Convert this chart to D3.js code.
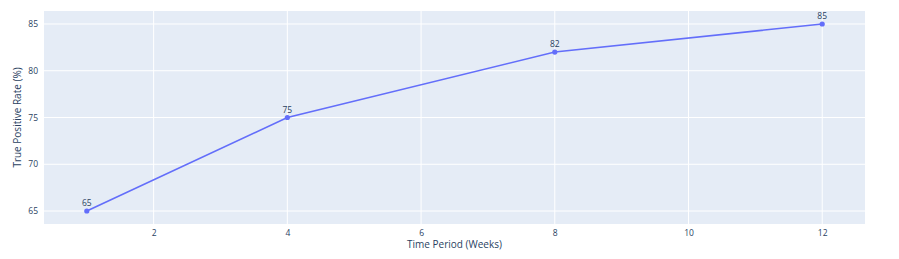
<!DOCTYPE html>
<html>
<head>
<meta charset="utf-8">
<script src="https://cdn.jsdelivr.net/npm/d3@7"></script>
<style>
  body { margin: 0; background: #fff; }
  svg { font-family: "Open Sans", "DejaVu Sans", sans-serif; }
</style>
</head>
<body>
<div id="container"></div>
<script>
/* DATA */
const weeks = [1, 4, 8, 12];
const tpr = [65, 75, 82, 85];
const xTicks = [2, 4, 6, 8, 10, 12];
const yTicks = [65, 70, 75, 80, 85];

const width = 899, height = 259,
      margin = { top: 11, right: 34, bottom: 35, left: 44 };
const w = width - margin.left - margin.right,
      h = height - margin.top - margin.bottom;

const svg = d3.select("#container").append("svg")
  .attr("width", width)
  .attr("height", height);

const g = svg.append("g")
  .attr("transform", `translate(${margin.left},${margin.top})`);

// scales - plotly-ish autorange padding
const x = d3.scaleLinear().domain([0.36, 12.64]).range([0, w]);
const y = d3.scaleLinear().domain([63.61, 86.39]).range([h, 0]);

// plot background
g.append("rect")
  .attr("width", w)
  .attr("height", h)
  .attr("fill", "#e5ecf6");

// gridlines
g.selectAll(".xgrid").data(xTicks).join("line")
  .attr("x1", d => x(d)).attr("x2", d => x(d))
  .attr("y1", 0).attr("y2", h)
  .attr("stroke", "#fff").attr("stroke-width", 1);

g.selectAll(".ygrid").data(yTicks).join("line")
  .attr("y1", d => y(d)).attr("y2", d => y(d))
  .attr("x1", 0).attr("x2", w)
  .attr("stroke", "#fff").attr("stroke-width", 1);

// axes (no domain lines, no tick marks)
const xAxis = g.append("g")
  .attr("transform", `translate(0,${h})`)
  .call(d3.axisBottom(x).tickValues(xTicks).tickSize(0).tickPadding(6));
const yAxis = g.append("g")
  .call(d3.axisLeft(y).tickValues(yTicks).tickSize(0).tickPadding(6));

[xAxis, yAxis].forEach(a => {
  a.select(".domain").remove();
  a.selectAll("text")
    .attr("fill", "#2a3f5f")
    .style("font-size", "8.5px")
    .style("font-family", "\"Open Sans\", sans-serif");
});

// axis titles
svg.append("text")
  .attr("x", margin.left + w / 2)
  .attr("y", 248)
  .attr("text-anchor", "middle")
  .attr("fill", "#2a3f5f")
  .style("font-size", "10px")
  .text("Time Period (Weeks)");

svg.append("text")
  .attr("transform", `translate(21,${margin.top + h / 2}) rotate(-90)`)
  .attr("text-anchor", "middle")
  .attr("fill", "#2a3f5f")
  .style("font-size", "10px")
  .text("True Positive Rate (%)");

// line + markers
const data = weeks.map((d, i) => ({ week: d, rate: tpr[i] }));

const line = d3.line()
  .x(d => x(d.week))
  .y(d => y(d.rate));

g.append("path")
  .datum(data)
  .attr("d", line)
  .attr("fill", "none")
  .attr("stroke", "#636efa")
  .attr("stroke-width", 1.6);

g.selectAll(".pt").data(data).join("circle")
  .attr("cx", d => x(d.week))
  .attr("cy", d => y(d.rate))
  .attr("r", 2.6)
  .attr("fill", "#636efa");

g.selectAll(".lbl").data(data).join("text")
  .attr("x", d => x(d.week))
  .attr("y", d => y(d.rate) - 5)
  .attr("text-anchor", "middle")
  .attr("fill", "#2a3f5f")
  .style("font-size", "8.5px")
  .text(d => d.rate);
</script>
</body>
</html>
